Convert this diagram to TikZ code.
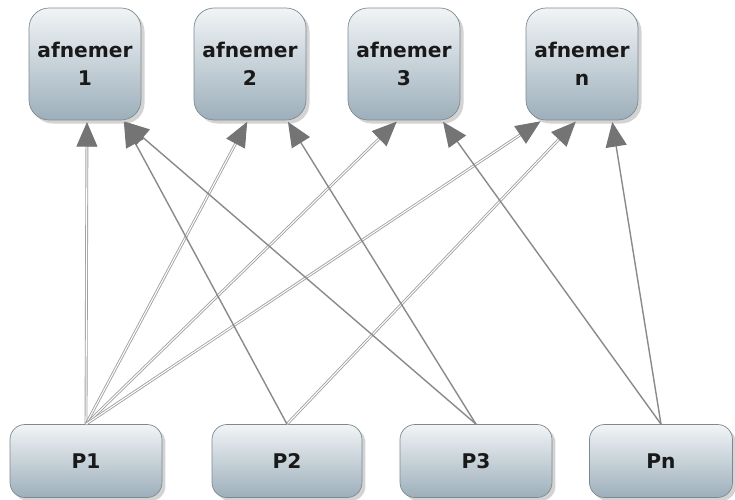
\documentclass[tikz,border=0pt]{standalone}
\usepackage{fontspec}
\newfontfamily\boxfont{DejaVu Sans}
\usetikzlibrary{arrows.meta,shadows,calc}

\definecolor{boxtop}{HTML}{F1F4F6}
\definecolor{boxbot}{HTML}{9DAFBB}
\definecolor{boxline}{HTML}{7E898F}
\definecolor{linkgray}{HTML}{8A8A8A}
\definecolor{tipgray}{HTML}{747474}

\tikzset{
  afnemer/.style={draw=boxline, rounded corners=0.4cm, top color=boxtop, bottom color=boxbot,
    minimum width=2.24cm, minimum height=2.24cm, align=center, text=black!90,
    font=\boxfont\bfseries\fontsize{11.5}{16}\selectfont,
    drop shadow={opacity=0.35, shadow xshift=2pt, shadow yshift=-2pt}},
  proces/.style={afnemer, rounded corners=0.3cm, minimum height=1.46cm},
  link/.style={linkgray, line width=0.8pt, shorten >=1pt,
    -{Triangle[length=14pt, width=12pt, fill=tipgray, color=tipgray]}},
  dlink/.style={link, draw=linkgray!80, double=white, double distance=0.6pt, line width=0.5pt}
}

\begin{document}
\begin{tikzpicture}[x=0.02cm, y=-0.02cm]
    \useasboundingbox (0,0) rectangle (735,500);

    % afnemers
    \node[afnemer] (a1) at (85,64) {afnemer\\1};
    \node[afnemer] (a2) at (250,64) {afnemer\\2};
    \node[afnemer] (a3) at (404,64) {afnemer\\3};
    \node[afnemer] (an) at (582,64) {afnemer\\n};

    % processen
    \node[proces, minimum width=3.04cm] (p1) at (86,461) {P1};
    \node[proces, minimum width=3.0cm] (p2) at (287,461) {P2};
    \node[proces, minimum width=3.04cm] (p3) at (476,461) {P3};
    \node[proces, minimum width=2.86cm] (pn) at (661,461) {Pn};

    % P1 en P2 (dubbel)
    \draw[dlink] (p1.north) -- ($(a1.south)+(2,0)$);
    \draw[dlink] (p1.north) -- ($(a2.south)+(-2,0)$);
    \draw[dlink] (p1.north) -- ($(a3.south)+(-6,0)$);
    \draw[dlink] (p1.north) -- ($(an.south)+(-40,0)$);
    \draw[dlink] (p2.north) -- ($(an.south)+(-5,0)$);

    % overige
    \draw[link] (p2.north) -- ($(a1.south)+(38,0)$);
    \draw[link] (p3.north) -- ($(a1.south)+(38,0)$);
    \draw[link] (p3.north) -- ($(a2.south)+(37,0)$);
    \draw[link] (pn.north) -- ($(a3.south)+(38,0)$);
    \draw[link] (pn.north) -- ($(an.south)+(30,0)$);
\end{tikzpicture}
\end{document}
